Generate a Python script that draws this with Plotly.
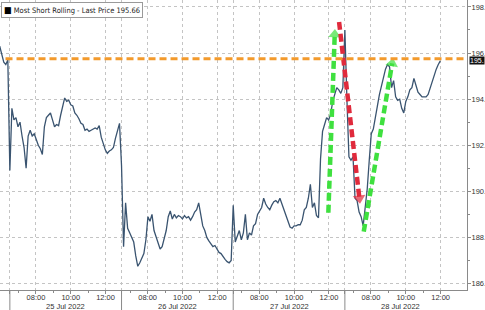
import plotly.graph_objects as go

# ---------------- data ----------------
SESSION_OPEN = "06:30"        # session open (displayed, compressed time axis)
SESSION_MINUTES = 385         # displayed session length (06:30 - 12:55)
BAR_MINUTES = 7               # bar interval

DAYS = ["22 Jul 2022", "25 Jul 2022", "26 Jul 2022", "27 Jul 2022", "28 Jul 2022"]
DAY_FIRST_BAR = ["12:20", "06:30", "06:30", "06:30", "06:30"]

PRICES_22 = [196.3, 195.9, 195.6, 195.5, 195.7]
PRICES_25 = [190.9, 193.6, 193.1, 193.2, 192.8, 193.0, 192.4, 191.9, 191.0, 192.4,
             192.65, 192.4, 192.5, 192.2, 192.0, 191.85, 191.6, 192.8, 193.2, 193.3,
             193.4, 193.1, 192.8, 192.9, 192.85, 193.3, 193.7, 194.05, 193.9, 193.95,
             193.75, 193.7, 193.4, 193.3, 193.15, 192.95, 192.9, 192.65, 192.7, 192.6,
             192.65, 192.7, 192.75, 192.7, 192.85, 192.35, 192.1, 191.8, 191.65, 191.75,
             191.8, 191.9, 192.3, 192.65, 192.95]
PRICES_26 = [191.1, 187.6, 189.5, 188.4, 188.2, 188.0, 187.8, 187.2, 186.75, 186.9,
             187.1, 187.3, 187.9, 188.9, 188.7, 189.0, 188.3, 188.0, 187.7, 187.5,
             187.6, 187.9, 188.3, 188.9, 189.15, 188.8, 189.0, 188.85, 188.95, 188.9,
             188.8, 188.95, 188.85, 188.9, 188.75, 188.9, 189.1, 189.2, 189.5, 189.0,
             188.5, 188.3, 188.0, 187.85, 187.7, 187.6, 187.65, 187.5, 187.35, 187.3,
             187.15, 187.05, 186.95, 186.9, 187.0]
PRICES_27 = [189.4, 187.8, 188.1, 188.3, 187.9, 188.2, 189.0, 187.9, 188.2, 188.1,
             188.5, 188.6, 189.0, 189.15, 189.3, 189.7, 189.45, 189.3, 189.2, 189.4,
             189.55, 189.6, 189.5, 189.7, 189.45, 189.2, 188.95, 188.7, 188.45, 188.4,
             188.5, 188.5, 188.55, 188.55, 188.75, 189.2, 189.3, 189.7, 190.3, 189.3,
             189.5, 188.95, 188.85, 191.4, 192.6, 192.9, 193.2, 193.1, 193.35, 193.9,
             194.25, 194.5, 194.4, 194.25, 194.5]
PRICES_28 = [197.0, 194.0, 191.5, 191.35, 191.5, 189.7, 189.6, 189.1, 188.9, 188.5,
             189.3, 190.1, 191.35, 192.5, 192.7, 193.3, 193.7, 194.2, 194.6, 195.0,
             195.3, 195.5, 195.4, 194.5, 194.8, 194.1, 193.95, 194.0, 193.6, 193.4,
             193.9, 194.1, 194.4, 194.5, 194.9, 194.6, 194.3, 194.2, 194.1, 194.1,
             194.1, 194.2, 194.5, 194.8, 195.1, 195.3, 195.5, 195.66]
DAY_PRICES = [PRICES_22, PRICES_25, PRICES_26, PRICES_27, PRICES_28]

LAST_PRICE = 195.66
LEVEL_LINE = 195.75
SERIES_NAME = "Most Short Rolling - Last Price"

TIME_TICKS = ["08:00", "10:00", "12:00"]
MINOR_TICKS = ["07:00", "09:00", "11:00"]
Y_TICKS = [186, 188, 190, 192, 194, 196, 198]
Y_TICKTEXT = ["186.", "188.", "190.", "192.", "194.", "196.", "198."]
Y_MINOR = [187, 189, 191, 193, 195, 197]

# arrows: (day index, time, price) tail -> tip
ARROW_UP1 = [(3, "11:58", 189.07), (3, "12:20", 196.80)]
ARROW_DOWN = [(3, "12:35", 197.35), (4, "07:20", 189.70)]
ARROW_UP2 = [(4, "07:35", 188.25), (4, "09:13", 195.55)]

# ---------------- helpers ----------------
def minutes(t):
    h, m = t.split(":")
    return int(h) * 60 + int(m)

OPEN_MIN = minutes(SESSION_OPEN)

def xpos(day_idx, t):
    # day_idx relative to 25 Jul (=0)
    return day_idx * SESSION_MINUTES + (minutes(t) - OPEN_MIN)

xs, ys = [], []
for k, (first, prices) in enumerate(zip(DAY_FIRST_BAR, DAY_PRICES)):
    d = k - 1
    start = xpos(d, first)
    for i, p in enumerate(prices):
        xs.append(start + i * BAR_MINUTES)
        ys.append(p)

fig = go.Figure()
fig.add_trace(go.Scatter(x=xs, y=ys, mode="lines",
                         line=dict(color="#3a5470", width=1.3),
                         hoverinfo="skip", showlegend=False))

def add_arrow(pts, color):
    ax = [xpos(d - 1, t) for d, t, _ in pts]
    ay = [p for _, _, p in pts]
    fig.add_trace(go.Scatter(
        x=ax, y=ay, mode="lines+markers",
        line=dict(color=color, width=4.5, dash="8px,4px"),
        marker=dict(symbol="triangle-up", size=[0, 11], color=color,
                    angleref="previous", line=dict(width=0)),
        hoverinfo="skip", showlegend=False))

GREEN = "#3fe03f"
RED = "#e02a3c"
add_arrow(ARROW_UP1, GREEN)
add_arrow(ARROW_UP2, GREEN)
add_arrow(ARROW_DOWN, RED)

# orange level line
fig.add_shape(type="line", xref="x", yref="y", x0=-15, x1=1576,
              y0=LEVEL_LINE, y1=LEVEL_LINE,
              line=dict(color="#f39a2c", width=3, dash="7px,4px"), layer="above")

# axes ticks
tickvals, ticktext, minorvals = [], [], []
for d in range(4):
    tickvals.append(xpos(d, SESSION_OPEN)); ticktext.append("")
    for t in TIME_TICKS:
        tickvals.append(xpos(d, t)); ticktext.append(t)
    for t in MINOR_TICKS:
        minorvals.append(xpos(d, t))

# day separators below axis + date labels
for d in range(4):
    xs0 = xpos(d, SESSION_OPEN)
    fig.add_shape(type="line", xref="x", yref="paper", x0=xs0, x1=xs0,
                  y0=0, y1=-0.08, line=dict(color="#8a8a8a", width=1))
    fig.add_annotation(x=xs0 + SESSION_MINUTES / 2, xref="x", yref="paper",
                       y=-0.037, yanchor="top", text=DAYS[d + 1], showarrow=False,
                       borderpad=0,
                       font=dict(size=7.5, color="#333", family="Liberation Sans, Arial"))

fig.update_layout(
    width=485, height=310,
    margin=dict(l=0, r=18, t=0, b=20, pad=0),
    paper_bgcolor="white", plot_bgcolor="white",
    template="none",
    font=dict(family="Liberation Sans, Arial", size=8, color="#333"),
    xaxis=dict(range=[-34, 1576], tickmode="array", tickvals=tickvals, ticktext=ticktext,
               showgrid=True, gridcolor="#c4c4c4", griddash="dot", gridwidth=1,
               ticks="outside", ticklen=3, tickcolor="#8a8a8a", ticklabelstandoff=-3,
               showline=True, linecolor="#8a8a8a", linewidth=1, zeroline=False,
               tickfont=dict(size=7.5, color="#333"), automargin=False,
               minor=dict(tickmode="array", tickvals=minorvals, ticks="outside",
                          ticklen=2, tickcolor="#8a8a8a", showgrid=False)),
    yaxis=dict(range=[185.72, 198.30], side="right", tickmode="array",
               tickvals=Y_TICKS, ticktext=Y_TICKTEXT,
               showgrid=True, gridcolor="#c4c4c4", griddash="dot", gridwidth=1,
               ticks="outside", ticklen=3, tickcolor="#8a8a8a", ticklabelstandoff=-1,
               showline=True, linecolor="#8a8a8a", linewidth=1, zeroline=False,
               tickfont=dict(size=7.5, color="#333"), automargin=False,
               minor=dict(tickmode="array", tickvals=Y_MINOR, ticks="outside",
                          ticklen=2, tickcolor="#8a8a8a", showgrid=False)),
)

# last price tag on the axis
fig.add_annotation(xref="paper", x=1, xanchor="left", xshift=2, y=LAST_PRICE, yref="y",
                   text="195.", showarrow=False, bgcolor="#111", borderpad=0,
                   font=dict(size=7, color="white", family="Liberation Sans, Arial"))

# legend box
fig.add_annotation(xref="paper", yref="paper", x=0.002, y=0.993, xanchor="left", yanchor="top",
                   text="<span style='font-size:9px;color:#000'>■</span> "
                        + SERIES_NAME + " " + f"{LAST_PRICE:.2f}",
                   showarrow=False, bgcolor="white", bordercolor="#9a9a9a",
                   borderwidth=1, borderpad=2,
                   font=dict(size=7.5, color="#222", family="Liberation Sans Narrow, DejaVu Sans Condensed, Liberation Sans, Arial"))

fig.write_html("out.html")
